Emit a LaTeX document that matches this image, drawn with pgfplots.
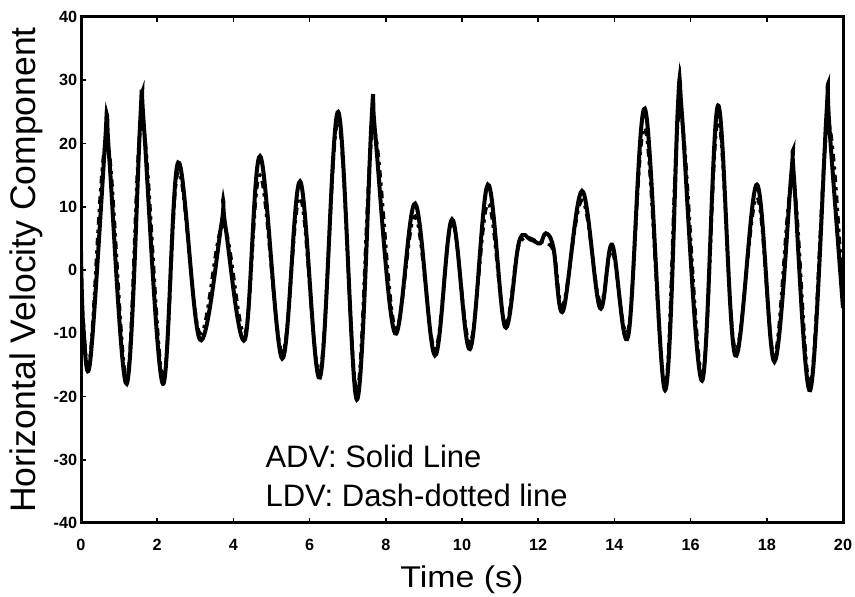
\documentclass[border=0pt]{standalone}
\usepackage{fontspec}
\setmainfont{Liberation Sans}
\usepackage{graphicx}
\usepackage{pgfplots}
\pgfplotsset{compat=1.18}
\begin{document}
\begin{tikzpicture}
\begin{axis}[
    scale only axis,
    width=304.8pt, height=202.4pt,
    xmin=0, xmax=20, ymin=-40, ymax=40,
    xtick={0,2,...,20}, ytick={-40,-30,...,40},
    ytick pos=left,
    tick align=inside,
    major tick length=2pt,
    tick style={black, line width=0.7pt},
    axis line style={line width=1.2pt},
    /pgf/number format/assume math mode=true,
    ticklabel style={font=\fontsize{6.5}{7}\selectfont\bfseries},
    xticklabel style={yshift=-3pt},
    yticklabel style={xshift=2pt},
    xlabel={\scalebox{1.13}[1]{Time (s)}},
    ylabel={Horizontal Velocity Component},
    xlabel style={font=\fontsize{12}{14}\selectfont, yshift=1pt},
    ylabel style={font=\fontsize{14.2}{16}\selectfont, yshift=-2.5pt},
]
% ADV (solid)
\addplot[black, line width=1.6pt, smooth, tension=0.6] coordinates {
(0.00,3) (0.06,-9) (0.24,-14.5) (0.62,19) (0.68,24.5) (0.75,17) (1.20,-18)
(1.55,23) (1.60,28) (1.66,22) (2.15,-18) (2.55,17) (3.12,-11) (3.68,7)
(3.73,11) (3.80,6.5) (4.30,-11) (4.70,18) (5.28,-14) (5.75,14) (6.27,-17)
(6.75,25) (7.24,-20.5) (7.62,23) (7.67,26.5) (7.73,21) (8.24,-10) (8.77,10.5)
(9.29,-13.5) (9.74,8) (10.21,-12.5) (10.68,13.5) (11.13,-9) (11.50,4.5)
(11.80,4.8) (12.05,4.2) (12.20,5.8) (12.40,3.5) (12.65,-6.5) (13.15,12.5)
(13.62,-6) (13.94,4) (14.36,-10.5) (14.80,25.5) (15.33,-19) (15.66,25)
(15.72,29) (15.78,24) (16.30,-17.5) (16.72,26) (17.17,-13.5) (17.74,13.5)
(18.20,-14.5) (18.64,15) (18.68,18.5) (18.72,14) (19.14,-19) (19.56,24)
(19.60,28.5) (19.65,22) (20.00,-6)
};
% LDV (dash-dotted)
\addplot[black, line width=1.3pt, dash dot, smooth, tension=0.6] coordinates {
(0.00,2) (0.06,-8) (0.24,-13.5) (0.68,20.5) (1.20,-17) (1.60,23.5) (2.15,-17)
(2.55,15.5) (3.12,-10) (3.73,7) (4.30,-10) (4.70,15) (5.28,-13) (5.75,11.5)
(6.27,-16) (6.75,23.5) (7.24,-19) (7.67,22) (8.24,-9) (8.77,8.5) (9.29,-12.5)
(9.74,7.5) (10.21,-11.5) (10.68,10.5) (11.13,-8.5) (11.50,4) (12.00,4.5)
(12.40,3) (12.65,-5.5) (13.15,11) (13.62,-5) (13.94,3) (14.36,-9.5)
(14.80,22.5) (15.33,-18) (15.72,25) (16.30,-16.5) (16.72,23.5) (17.17,-12.5)
(17.74,11.5) (18.20,-13.5) (18.68,14) (19.14,-18) (19.60,23) (20.00,-5)
};
\node[anchor=west, inner sep=0pt, font=\fontsize{12.4}{14}\selectfont] at (axis cs:4.83,-29.4) {ADV: Solid Line};
\node[anchor=west, inner sep=0pt, font=\fontsize{12.4}{14}\selectfont] at (axis cs:4.83,-35.7) {LDV: Dash-dotted line};
\coordinate (sw) at (rel axis cs:0,0);
\coordinate (ne) at (rel axis cs:1,1);
\end{axis}
\pgfresetboundingbox
\path ([shift={(-32.4pt,-29.6pt)}]sw) rectangle ([shift={(4.8pt,6.8pt)}]ne);
\end{tikzpicture}
\end{document}
